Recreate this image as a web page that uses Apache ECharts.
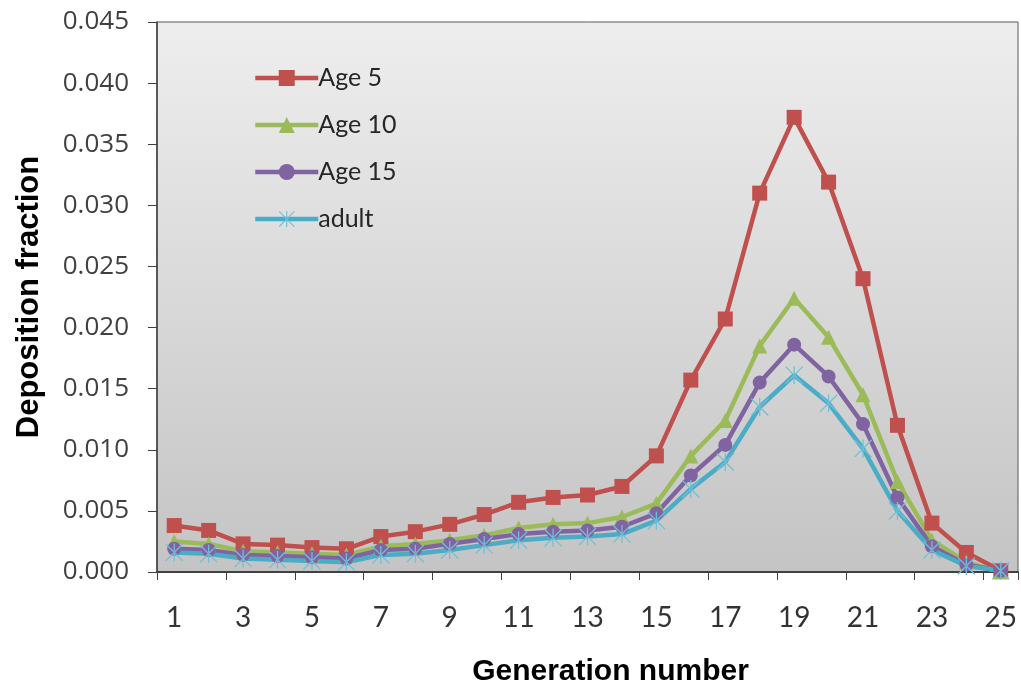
<!DOCTYPE html>
<html>
<head>
<meta charset="utf-8">
<title>Deposition fraction by generation</title>
<script src="https://cdn.jsdelivr.net/npm/echarts@6/dist/echarts.min.js"></script>
<style>
  html, body { margin: 0; padding: 0; background: #ffffff; }
  #chart { width: 1021px; height: 685px; }
</style>
</head>
<body>
<div id="chart"></div>
<script>
// Airway generation numbers
const generations = ['1','2','3','4','5','6','7','8','9','10','11','12','13','14','15','16','17','18','19','20','21','22','23','24','25'];

// Deposition fraction per generation for each age group
const age5  = [0.0038,0.0034,0.0023,0.0022,0.0020,0.0019,0.0029,0.0033,0.0039,0.0047,0.0057,0.0061,0.0063,0.0070,0.0095,0.0157,0.0207,0.0310,0.0372,0.0319,0.0240,0.0120,0.0040,0.0016,0.0001];
const age10 = [0.0025,0.0023,0.0017,0.0016,0.0015,0.0014,0.0021,0.0023,0.0026,0.0030,0.0036,0.0039,0.0040,0.0045,0.0056,0.0095,0.0124,0.0185,0.0224,0.0192,0.0145,0.0074,0.0026,0.0008,0.0000];
const age15 = [0.0019,0.0018,0.0014,0.0013,0.0012,0.0011,0.0018,0.0019,0.0023,0.0027,0.0031,0.0033,0.0034,0.0037,0.0048,0.0079,0.0104,0.0155,0.0186,0.0160,0.0121,0.0061,0.0021,0.0006,0.0001];
const adult = [0.0016,0.0015,0.0011,0.0010,0.0009,0.0008,0.0014,0.0015,0.0018,0.0022,0.0026,0.0028,0.0029,0.0031,0.0042,0.0068,0.0090,0.0135,0.0161,0.0138,0.0101,0.0050,0.0018,0.0005,0.0001];

const seriesNames = ['Age 5', 'Age 10', 'Age 15', 'adult'];

// Asterisk marker built from three thin bars
const starPath = 'path://M9.3 0 L10.7 0 L10.7 20 L9.3 20 Z M0 1 L1 0 L20 19 L19 20 Z M20 1 L19 0 L0 19 L1 20 Z';

const chart = echarts.init(document.getElementById('chart'), null, { renderer: 'canvas' });

function lineSeries(name, data, color, symbol, size, symbolColor) {
  return {
    name: name,
    type: 'line',
    data: data,
    symbol: symbol,
    symbolSize: size,
    showAllSymbol: true,
    lineStyle: { color: color, width: 4.5 },
    itemStyle: { color: symbolColor || color, borderWidth: 0 },
    emphasis: { disabled: true },
    animation: false
  };
}

chart.setOption({
  backgroundColor: '#ffffff',
  textStyle: { fontFamily: 'Open Sans' },
  grid: {
    left: 157, top: 22, right: 3, bottom: 113,
    outerBoundsMode: 'none',
    containLabel: false,
    show: true,
    borderColor: '#5a5a5a',
    borderWidth: 1,
    backgroundColor: new echarts.graphic.LinearGradient(0, 0, 0, 1, [
      { offset: 0, color: '#eeeeee' },
      { offset: 1, color: '#c4c4c4' }
    ])
  },
  legend: {
    orient: 'vertical',
    left: 248,
    top: 59,
    itemWidth: 63,
    itemHeight: 20,
    itemGap: 19,
    data: seriesNames,
    lineStyle: { width: 4.5 },
    textStyle: { fontFamily: 'Lato', fontSize: 25, lineHeight: 28, color: '#262626', padding: [0, 0, 0, -5] }
  },
  xAxis: {
    type: 'category',
    data: generations,
    boundaryGap: true,
    name: 'Generation number',
    nameLocation: 'middle',
    nameGap: 85,
    nameTextStyle: { fontFamily: 'Liberation Sans', fontWeight: 'bold', fontSize: 30, color: '#000000', padding: [0, 0, 0, 46] },
    axisLine: { lineStyle: { color: '#404040', width: 2 } },
    axisTick: { show: true, interval: 1, length: 8, lineStyle: { color: '#404040', width: 1 } },
    axisLabel: { interval: 1, fontFamily: 'Lato', fontSize: 28, color: '#333333', margin: 32 }
  },
  yAxis: {
    type: 'value',
    min: 0,
    max: 0.045,
    interval: 0.005,
    name: 'Deposition fraction',
    nameLocation: 'middle',
    nameGap: 112,
    nameTextStyle: { fontFamily: 'Liberation Sans', fontWeight: 'bold', fontSize: 31, color: '#000000' },
    axisLine: { show: true, lineStyle: { color: '#404040', width: 1.5 } },
    axisTick: { show: true, length: 9, lineStyle: { color: '#404040', width: 1 } },
    axisLabel: { fontFamily: 'Open Sans', fontSize: 26, color: '#404040', margin: 28, formatter: v => v.toFixed(3) },
    splitLine: { show: false }
  },
  series: [
    lineSeries('Age 5', age5, '#c0504d', 'rect', 15),
    lineSeries('Age 10', age10, '#9bbb59', 'triangle', 15),
    lineSeries('Age 15', age15, '#8064a2', 'circle', 14),
    lineSeries('adult', adult, '#4bacc6', starPath, 18, '#6fc0d8')
  ]
});
</script>
</body>
</html>
